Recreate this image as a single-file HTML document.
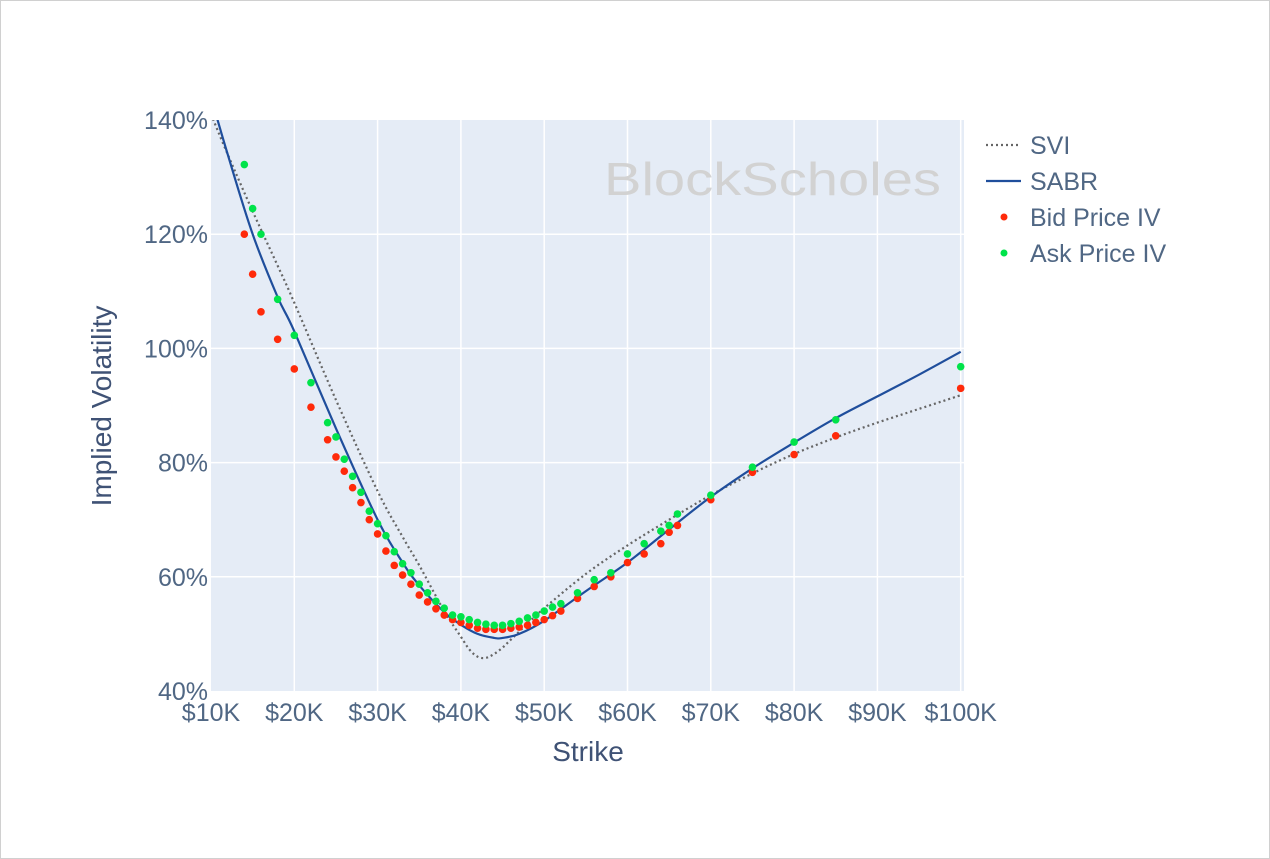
<!DOCTYPE html>
<html><head><meta charset="utf-8"><style>
html,body{margin:0;padding:0;background:#fff;}
#w{position:relative;width:1268px;height:857px;border:1px solid #d0d0d0;overflow:hidden;font-family:"Liberation Sans",sans-serif;}
</style></head><body><div id="w">
<svg id="s" width="1268" height="857" xmlns="http://www.w3.org/2000/svg" font-family="Liberation Sans, sans-serif">
<defs><clipPath id="cp"><rect x="210" y="119" width="753" height="571"/></clipPath></defs>
<rect x="210" y="119" width="753" height="571" fill="#e5ecf6"/>
<g id="grid" stroke="#fff" stroke-width="1.5"></g>
<text x="603" y="194" font-size="46" fill="#d2d2d2" textLength="337" lengthAdjust="spacingAndGlyphs">BlockScholes</text>
<g id="lines" clip-path="url(#cp)"></g>
<g id="dots"></g>
<g font-size="25" fill="#506784" text-anchor="end" id="yl"></g>
<g font-size="25" fill="#506784" text-anchor="middle" id="xl"></g>
<text x="587" y="760" font-size="28" fill="#3f5275" text-anchor="middle">Strike</text>
<text transform="translate(110,405) rotate(-90)" font-size="28" fill="#3f5275" text-anchor="middle">Implied Volatility</text>
<g font-size="25" fill="#506784">
<line x1="985" y1="144" x2="1020" y2="144" stroke="#666" stroke-width="2.2" stroke-dasharray="2,3"/>
<text x="1029" y="153">SVI</text>
<line x1="985" y1="180" x2="1020" y2="180" stroke="#1f4e9c" stroke-width="2.2"/>
<text x="1029" y="189">SABR</text>
<circle cx="1003" cy="216" r="3.5" fill="#ff2a0a"/>
<text x="1029" y="225">Bid Price IV</text>
<circle cx="1003" cy="252" r="3.5" fill="#00e34a"/>
<text x="1029" y="261">Ask Price IV</text>
</g>
</svg>
<script>
var NS="http://www.w3.org/2000/svg";
function X(k){return 210+(k-10)*8.33;}
function Y(v){return 119+(140-v)*5.71;}
function el(t,a,p){var e=document.createElementNS(NS,t);for(var k in a)e.setAttribute(k,a[k]);document.getElementById(p).appendChild(e);return e;}
for(var k=20;k<=100;k+=10)el("line",{x1:X(k),x2:X(k),y1:119,y2:690},"grid");
for(var v=60;v<=120;v+=20)el("line",{x1:210,x2:963,y1:Y(v),y2:Y(v)},"grid");
[140,120,100,80,60,40].forEach(function(v){var t=el("text",{x:207,y:Y(v)+9},"yl");t.textContent=v+"%";});
for(var k=10;k<=100;k+=10){var t=el("text",{x:X(k),y:720},"xl");t.textContent="$"+k+"K";}
function path(pts,attrs){
 var P=pts.map(function(p){return [X(p[0]),Y(p[1])];});
 var d="M"+P[0][0].toFixed(1)+","+P[0][1].toFixed(1);
 for(var i=0;i<P.length-1;i++){
  var p0=P[i-1]||P[i],p1=P[i],p2=P[i+1],p3=P[i+2]||P[i+1];
  var c1=[p1[0]+(p2[0]-p0[0])/6,p1[1]+(p2[1]-p0[1])/6];
  var c2=[p2[0]-(p3[0]-p1[0])/6,p2[1]-(p3[1]-p1[1])/6];
  d+="C"+c1[0].toFixed(1)+","+c1[1].toFixed(1)+" "+c2[0].toFixed(1)+","+c2[1].toFixed(1)+" "+p2[0].toFixed(1)+","+p2[1].toFixed(1);
 }
 attrs.d=d;attrs.fill="none";el("path",attrs,"lines");}
var svi=[[10,141],[12,134],[15,124],[18,114.5],[20,108],[25,91],[30,75],[33,67],[35,62],[38,54],[40,49.5],[41,47.3],[42,46],[43,45.8],[44,46.5],[45,47.6],[46,49],[48,51.8],[50,54.5],[55,60.5],[60,65.5],[65,70],[70,74.3],[75,78.1],[80,81.5],[85,84.4],[90,87],[95,89.4],[100,91.8]];
var sabr=[[10,144],[12,134],[15,120],[18,109],[20,103],[25,86],[30,70],[33,62.5],[35,58.5],[38,53.8],[40,51.6],[42,50],[44,49.3],[45,49.3],[47,50],[50,52.3],[55,57.5],[60,62.5],[65,68.3],[70,74],[75,79],[80,83.5],[85,87.8],[90,91.6],[95,95.4],[100,99.4]];
path(svi,{stroke:"#666","stroke-width":2.2,"stroke-dasharray":"2,3"});
path(sabr,{stroke:"#1f4e9c","stroke-width":2.2});
var bid=[[14,120],[15,113],[16,106.4],[18,101.6],[20,96.4],[22,89.7],[24,84],[25,81],[26,78.5],[27,75.6],[28,73],[29,70],[30,67.5],[31,64.5],[32,62],[33,60.3],[34,58.7],[35,56.8],[36,55.6],[37,54.4],[38,53.3],[39,52.5],[40,52],[41,51.5],[42,51],[43,50.8],[44,50.8],[45,50.8],[46,51],[47,51.2],[48,51.5],[49,52],[50,52.5],[51,53.2],[52,54],[54,56.2],[56,58.3],[58,60],[60,62.5],[62,64],[64,65.8],[65,67.8],[66,69],[70,73.5],[75,78.3],[80,81.4],[85,84.7],[100,93]];
var ask=[[14,132.2],[15,124.5],[16,120],[18,108.6],[20,102.3],[22,94],[24,87],[25,84.5],[26,80.6],[27,77.6],[28,74.8],[29,71.5],[30,69.3],[31,67.2],[32,64.4],[33,62.3],[34,60.7],[35,58.7],[36,57.2],[37,55.7],[38,54.5],[39,53.3],[40,53],[41,52.5],[42,52],[43,51.7],[44,51.5],[45,51.5],[46,51.8],[47,52.2],[48,52.8],[49,53.3],[50,54],[51,54.7],[52,55.3],[54,57.2],[56,59.5],[58,60.7],[60,64],[62,65.8],[64,68],[65,69],[66,71],[70,74.3],[75,79.2],[80,83.6],[85,87.5],[100,96.8]];
bid.forEach(function(p){el("circle",{cx:X(p[0]),cy:Y(p[1]),r:3.8,fill:"#ff2a0a"},"dots");});
ask.forEach(function(p){el("circle",{cx:X(p[0]),cy:Y(p[1]),r:3.8,fill:"#00e34a"},"dots");});
</script>
</div></body></html>
